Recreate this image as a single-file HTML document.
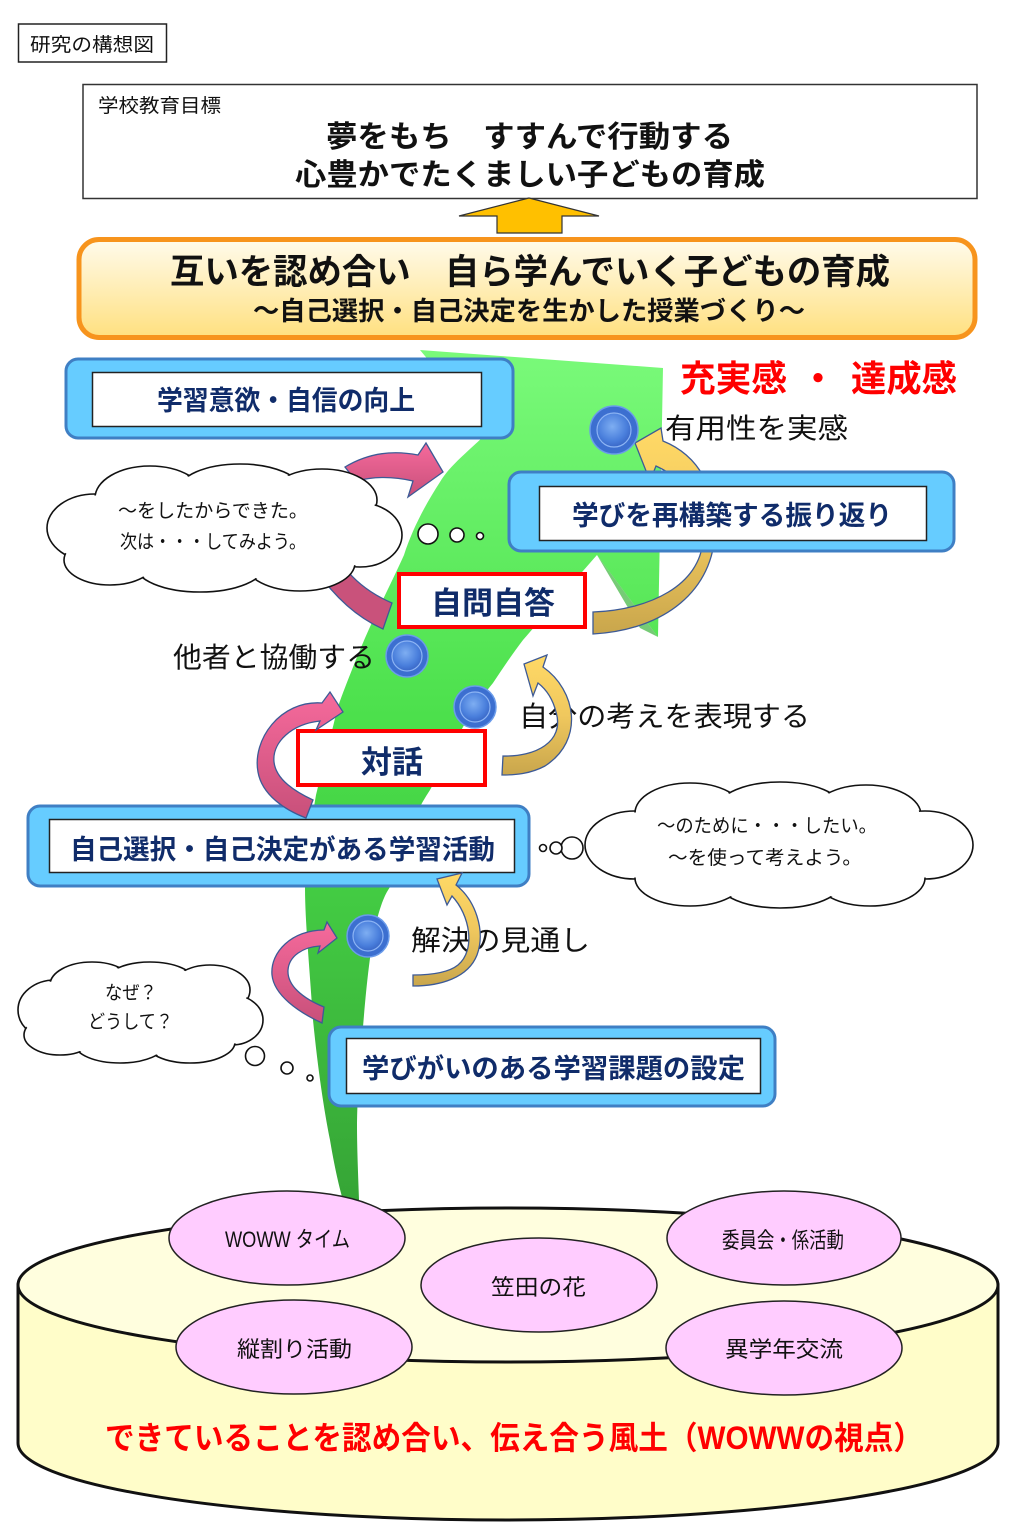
<!DOCTYPE html>
<html><head><meta charset="utf-8">
<style>
html,body{margin:0;padding:0;background:#fff;}
svg{display:block;}
text{font-family:"Liberation Sans","Noto Sans CJK JP",sans-serif;}
</style></head>
<body>
<svg width="1024" height="1538" viewBox="0 0 1024 1538" xmlns="http://www.w3.org/2000/svg">
<defs>
  <linearGradient id="og" x1="0" y1="0" x2="0" y2="1">
    <stop offset="0" stop-color="#FFFBEC"/>
    <stop offset="1" stop-color="#FFE07F"/>
  </linearGradient>
  <linearGradient id="gg" x1="0" y1="350" x2="0" y2="1200" gradientUnits="userSpaceOnUse">
    <stop offset="0" stop-color="#7AFA7A"/>
    <stop offset="0.45" stop-color="#4ADF4A"/>
    <stop offset="1" stop-color="#36A536"/>
  </linearGradient>
  <linearGradient id="pk" x1="0" y1="0" x2="0" y2="1">
    <stop offset="0" stop-color="#F66A9C"/>
    <stop offset="1" stop-color="#C8507A"/>
  </linearGradient>
  <linearGradient id="gd" x1="0" y1="0" x2="0" y2="1">
    <stop offset="0" stop-color="#FFD966"/>
    <stop offset="0.5" stop-color="#F0C85E"/>
    <stop offset="1" stop-color="#C9A64C"/>
  </linearGradient>
  <radialGradient id="bl" cx="0.45" cy="0.4" r="0.6">
    <stop offset="0" stop-color="#7EAEF2"/>
    <stop offset="0.7" stop-color="#4A7FDC"/>
    <stop offset="1" stop-color="#3A68C8"/>
  </radialGradient>
</defs>

<!-- title box -->
<rect x="18.5" y="24" width="148" height="38" fill="#fff" stroke="#222" stroke-width="1.5"/>
<text x="30" y="51" font-size="19" textLength="124" lengthAdjust="spacingAndGlyphs" fill="#111">研究の構想図</text>

<!-- school goal box -->
<rect x="83" y="84.5" width="894" height="114" fill="#fff" stroke="#333" stroke-width="1.5"/>
<text x="98" y="112" font-size="19" textLength="123" lengthAdjust="spacingAndGlyphs" fill="#111">学校教育目標</text>
<text x="326" y="147" font-size="30" font-weight="bold" textLength="407" lengthAdjust="spacingAndGlyphs" fill="#111">夢をもち　すすんで行動する</text>
<text x="295" y="185" font-size="30" font-weight="bold" textLength="470" lengthAdjust="spacingAndGlyphs" fill="#111">心豊かでたくましい子どもの育成</text>

<!-- orange up arrow -->
<polygon points="529,198 459,216 497,216 497,233 562,233 562,216 599,216" fill="#FFC000" stroke="#333" stroke-width="1.2"/>

<!-- orange box -->
<rect x="79" y="239.5" width="896" height="98" rx="20" fill="url(#og)" stroke="#F7941D" stroke-width="5"/>
<text x="170" y="284" font-size="35" font-weight="bold" textLength="720" lengthAdjust="spacingAndGlyphs" fill="#111">互いを認め合い　自ら学んでいく子どもの育成</text>
<text x="253" y="320" font-size="26" font-weight="bold" textLength="552" lengthAdjust="spacingAndGlyphs" fill="#111">～自己選択・自己決定を生かした授業づくり～</text>

<!-- cylinder -->
<path d="M18,1285 L18,1443 A490,77 0 0 0 998,1443 L998,1285 Z" fill="#FFFDC9" stroke="#111" stroke-width="3"/>
<ellipse cx="508" cy="1285" rx="490" ry="77" fill="#FFFEDE" stroke="#111" stroke-width="3"/>

<!-- green arrow -->
<path d="M663,368 L420,350 L488,432 C470,450 450,465 440,482 C425,505 412,530 404,555 C395,575 385,595 378,610 C368,630 360,650 355,662 C346,685 340,700 337,710 C330,740 322,770 316,795 C310,830 305,860 305,887 C305,920 309,960 313,1020 C318,1070 324,1110 330,1140 C335,1170 340,1190 343,1200 L359,1200 C358,1170 357,1150 357,1123 C358,1080 360,1050 363,1027 C366,990 370,950 376,923 C382,900 386,893 390,887 C395,870 398,860 402,848 C410,825 420,805 430,790 C442,768 452,747 463,727 C473,710 483,695 493,683 C503,668 513,653 523,640 C545,615 575,580 597,555 L658,637 Z" fill="url(#gg)"/>
<path d="M597,555 L658,637 L640,628 Z" fill="#3CB53C" opacity="0.7"/>

<!-- gold arrow 1 (behind box) -->
<path d="M593,612 C650,610 700,585 703,540 C705,505 690,482 656,466 L650,481 L635,443 L661,428 L663,441 C700,456 716,490 715,530 C714,590 665,630 593,634 Z" fill="url(#gd)" stroke="#3D5A96" stroke-width="1.3"/>

<!-- pink arrow 1 -->
<path d="M345,467 Q378,447 418,455 L426,443 L443,472 L408,497 L413,481 Q383,474 356,481 Z" fill="url(#pk)" stroke="#3D5A96" stroke-width="1.3"/>
<!-- pink arrow 2 -->
<path d="M316,570 Q345,612 383,629 L392,603 Q362,590 345,568 Z" fill="#C9527B" stroke="#3D5A96" stroke-width="1.3"/>

<!-- blue box 1 -->
<rect x="66" y="359" width="447" height="79" rx="12" fill="#66CCFF" stroke="#3F7FC4" stroke-width="3"/>
<rect x="92.5" y="372.5" width="389" height="54" fill="#fff" stroke="#222" stroke-width="1.5"/>
<text x="157" y="410" font-size="27" font-weight="bold" textLength="258" lengthAdjust="spacingAndGlyphs" fill="#102C6A">学習意欲・自信の向上</text>

<!-- blue box 2 -->
<rect x="509" y="472" width="445" height="79" rx="12" fill="#66CCFF" stroke="#3F7FC4" stroke-width="3"/>
<rect x="539.5" y="486.5" width="387" height="54" fill="#fff" stroke="#222" stroke-width="1.5"/>
<text x="572" y="525" font-size="27" font-weight="bold" textLength="320" lengthAdjust="spacingAndGlyphs" fill="#102C6A">学びを再構築する振り返り</text>

<!-- red text -->
<text x="680" y="391" font-size="36" font-weight="bold" textLength="107" lengthAdjust="spacingAndGlyphs" fill="#FF0000">充実感</text>
<text x="818" y="391" font-size="36" font-weight="bold" text-anchor="middle" fill="#FF0000">・</text>
<text x="851" y="391" font-size="36" font-weight="bold" textLength="106" lengthAdjust="spacingAndGlyphs" fill="#FF0000">達成感</text>

<!-- cloud 1 -->
<g fill="#fff" stroke="#111" stroke-width="1.6">
  <ellipse cx="95" cy="528" rx="48" ry="34"/>
  <ellipse cx="150" cy="498" rx="55" ry="32"/>
  <ellipse cx="240" cy="491" rx="62" ry="27"/>
  <ellipse cx="322" cy="500" rx="55" ry="31"/>
  <ellipse cx="360" cy="535" rx="42" ry="32"/>
  <ellipse cx="300" cy="563" rx="55" ry="28"/>
  <ellipse cx="200" cy="565" rx="65" ry="27"/>
  <ellipse cx="110" cy="560" rx="46" ry="25"/>
</g>
<g fill="#fff">
  <ellipse cx="95" cy="528" rx="46.5" ry="32.5"/>
  <ellipse cx="150" cy="498" rx="53.5" ry="30.5"/>
  <ellipse cx="240" cy="491" rx="60.5" ry="25.5"/>
  <ellipse cx="322" cy="500" rx="53.5" ry="29.5"/>
  <ellipse cx="360" cy="535" rx="40.5" ry="30.5"/>
  <ellipse cx="300" cy="563" rx="53.5" ry="26.5"/>
  <ellipse cx="200" cy="565" rx="63.5" ry="25.5"/>
  <ellipse cx="110" cy="560" rx="44.5" ry="23.5"/>
  <ellipse cx="224" cy="528" rx="150" ry="48"/>
</g>
<text x="118" y="517" font-size="19" textLength="190" lengthAdjust="spacingAndGlyphs" fill="#111">～をしたからできた。</text>
<text x="120" y="548" font-size="19" textLength="186" lengthAdjust="spacingAndGlyphs" fill="#111">次は・・・してみよう。</text>
<g fill="#fff" stroke="#111" stroke-width="1.6">
  <circle cx="428" cy="534" r="10"/>
  <circle cx="457" cy="535" r="7"/>
  <circle cx="480" cy="536" r="3.5"/>
</g>

<!-- red boxes -->
<rect x="399" y="574" width="186" height="53" fill="#fff" stroke="#FF0000" stroke-width="4"/>
<text x="431" y="614" font-size="31" font-weight="bold" textLength="124" lengthAdjust="spacingAndGlyphs" fill="#102C6A">自問自答</text>
<rect x="298" y="731" width="187" height="54" fill="#fff" stroke="#FF0000" stroke-width="4"/>
<text x="361" y="773" font-size="31" font-weight="bold" textLength="62" lengthAdjust="spacingAndGlyphs" fill="#102C6A">対話</text>

<!-- labels -->
<text x="665" y="438" font-size="28" textLength="183" lengthAdjust="spacingAndGlyphs" fill="#111">有用性を実感</text>
<text x="173" y="667" font-size="28" textLength="202" lengthAdjust="spacingAndGlyphs" fill="#111">他者と協働する</text>
<text x="519" y="726" font-size="28" textLength="291" lengthAdjust="spacingAndGlyphs" fill="#111">自分の考えを表現する</text>
<text x="411" y="950" font-size="28" textLength="179" lengthAdjust="spacingAndGlyphs" fill="#111">解決の見通し</text>

<!-- gold arrow 2 -->
<path d="M538,683 L533,696 L524,664 L547,655 L543,667 C576,690 585,740 545,766 C530,774 515,775 502,775 L503,756 C535,757 565,742 556,712 C553,700 547,690 538,683 Z" fill="url(#gd)" stroke="#3D5A96" stroke-width="1.3"/>

<!-- blue box 3 -->
<rect x="28" y="806" width="501" height="80" rx="12" fill="#66CCFF" stroke="#3F7FC4" stroke-width="3"/>
<rect x="49.5" y="819.5" width="465" height="53" fill="#fff" stroke="#222" stroke-width="1.5"/>
<text x="70" y="859" font-size="27" font-weight="bold" textLength="425" lengthAdjust="spacingAndGlyphs" fill="#102C6A">自己選択・自己決定がある学習活動</text>

<!-- pink arrow 3 -->
<path d="M322,703 C280,700 252,740 258,772 C262,795 285,810 306,818 L313,800 C296,792 276,780 274,762 C272,742 292,724 320,721 L316,730 L343,712 L330,692 Z" fill="url(#pk)" stroke="#3D5A96" stroke-width="1.3"/>

<!-- cloud 2 -->
<g fill="#fff" stroke="#111" stroke-width="1.6">
  <ellipse cx="635" cy="845" rx="50" ry="34"/>
  <ellipse cx="690" cy="813" rx="55" ry="30"/>
  <ellipse cx="780" cy="808" rx="62" ry="26"/>
  <ellipse cx="866" cy="815" rx="55" ry="30"/>
  <ellipse cx="925" cy="845" rx="48" ry="34"/>
  <ellipse cx="870" cy="878" rx="55" ry="28"/>
  <ellipse cx="780" cy="882" rx="62" ry="26"/>
  <ellipse cx="690" cy="878" rx="55" ry="28"/>
</g>
<g fill="#fff">
  <ellipse cx="635" cy="845" rx="48.5" ry="32.5"/>
  <ellipse cx="690" cy="813" rx="53.5" ry="28.5"/>
  <ellipse cx="780" cy="808" rx="60.5" ry="24.5"/>
  <ellipse cx="866" cy="815" rx="53.5" ry="28.5"/>
  <ellipse cx="925" cy="845" rx="46.5" ry="32.5"/>
  <ellipse cx="870" cy="878" rx="53.5" ry="26.5"/>
  <ellipse cx="780" cy="882" rx="60.5" ry="24.5"/>
  <ellipse cx="690" cy="878" rx="53.5" ry="26.5"/>
  <ellipse cx="779" cy="845" rx="165" ry="48"/>
</g>
<text x="657" y="832" font-size="19" textLength="220" lengthAdjust="spacingAndGlyphs" fill="#111">～のために・・・したい。</text>
<text x="668" y="864" font-size="19" textLength="194" lengthAdjust="spacingAndGlyphs" fill="#111">～を使って考えよう。</text>
<g fill="#fff" stroke="#111" stroke-width="1.6">
  <circle cx="572" cy="848" r="11"/>
  <circle cx="556" cy="848" r="6"/>
  <circle cx="543" cy="848" r="3.5"/>
</g>

<!-- gold arrow 3 -->
<path d="M456,885 L462,873 L437,879 L447,905 L452,896 C470,915 476,950 458,965 C448,973 430,975 413,975 L413,986 C440,986 468,978 477,955 C486,930 475,900 456,885 Z" fill="url(#gd)" stroke="#3D5A96" stroke-width="1.3"/>

<!-- pink arrow 4 -->
<path d="M324,930 C292,930 270,952 272,975 C274,995 298,1012 322,1023 L324,1007 C302,998 287,985 288,970 C289,956 303,947 320,946 L318,953 L337,938 L327,922 Z" fill="url(#pk)" stroke="#3D5A96" stroke-width="1.3"/>

<!-- cloud 3 -->
<g fill="#fff" stroke="#111" stroke-width="1.6">
  <ellipse cx="55" cy="1010" rx="37" ry="30"/>
  <ellipse cx="92" cy="985" rx="42" ry="23"/>
  <ellipse cx="150" cy="982" rx="45" ry="20"/>
  <ellipse cx="210" cy="990" rx="40" ry="25"/>
  <ellipse cx="232" cy="1020" rx="31" ry="25"/>
  <ellipse cx="190" cy="1042" rx="45" ry="21"/>
  <ellipse cx="120" cy="1044" rx="45" ry="19"/>
  <ellipse cx="60" cy="1035" rx="36" ry="20"/>
</g>
<g fill="#fff">
  <ellipse cx="55" cy="1010" rx="35.5" ry="28.5"/>
  <ellipse cx="92" cy="985" rx="40.5" ry="21.5"/>
  <ellipse cx="150" cy="982" rx="43.5" ry="18.5"/>
  <ellipse cx="210" cy="990" rx="38.5" ry="23.5"/>
  <ellipse cx="232" cy="1020" rx="29.5" ry="23.5"/>
  <ellipse cx="190" cy="1042" rx="43.5" ry="19.5"/>
  <ellipse cx="120" cy="1044" rx="43.5" ry="17.5"/>
  <ellipse cx="60" cy="1035" rx="34.5" ry="18.5"/>
  <ellipse cx="140" cy="1012" rx="105" ry="33"/>
</g>
<text x="105" y="999" font-size="19" textLength="52" lengthAdjust="spacingAndGlyphs" fill="#111">なぜ？</text>
<text x="88" y="1028" font-size="19" textLength="85" lengthAdjust="spacingAndGlyphs" fill="#111">どうして？</text>
<g fill="#fff" stroke="#111" stroke-width="1.6">
  <circle cx="255" cy="1056" r="9.5"/>
  <circle cx="287" cy="1068" r="6"/>
  <circle cx="310" cy="1078" r="3"/>
</g>

<!-- blue box 4 -->
<rect x="329" y="1027" width="446" height="79" rx="12" fill="#66CCFF" stroke="#3F7FC4" stroke-width="3"/>
<rect x="346.5" y="1038.5" width="414" height="55" fill="#fff" stroke="#222" stroke-width="1.5"/>
<text x="362" y="1078" font-size="27" font-weight="bold" textLength="383" lengthAdjust="spacingAndGlyphs" fill="#102C6A">学びがいのある学習課題の設定</text>

<!-- balls -->
<g>
  <circle cx="614" cy="430" r="24" fill="#3C6FD0" stroke="#6A9BEA" stroke-width="1.5"/>
  <circle cx="614" cy="430" r="17" fill="url(#bl)" stroke="#8CB4F4" stroke-width="1.2"/>
  <circle cx="407" cy="656" r="21" fill="#3C6FD0" stroke="#6A9BEA" stroke-width="1.5"/>
  <circle cx="407" cy="656" r="15" fill="url(#bl)" stroke="#8CB4F4" stroke-width="1.2"/>
  <circle cx="475" cy="707" r="21" fill="#3C6FD0" stroke="#6A9BEA" stroke-width="1.5"/>
  <circle cx="475" cy="707" r="15" fill="url(#bl)" stroke="#8CB4F4" stroke-width="1.2"/>
  <circle cx="368" cy="936" r="21" fill="#3C6FD0" stroke="#6A9BEA" stroke-width="1.5"/>
  <circle cx="368" cy="936" r="15" fill="url(#bl)" stroke="#8CB4F4" stroke-width="1.2"/>
</g>

<!-- ovals -->
<g fill="#FFCCFF" stroke="#222" stroke-width="1.5">
  <ellipse cx="287" cy="1238" rx="118" ry="47"/>
  <ellipse cx="784" cy="1238" rx="117" ry="47"/>
  <ellipse cx="539" cy="1285" rx="118" ry="47"/>
  <ellipse cx="294" cy="1347" rx="118" ry="47"/>
  <ellipse cx="784" cy="1348" rx="118" ry="47"/>
</g>
<text x="225" y="1247" font-size="22" textLength="125" lengthAdjust="spacingAndGlyphs" fill="#111">WOWW タイム</text>
<text x="722" y="1248" font-size="22" textLength="122" lengthAdjust="spacingAndGlyphs" fill="#111">委員会・係活動</text>
<text x="491" y="1295" font-size="22" textLength="95" lengthAdjust="spacingAndGlyphs" fill="#111">笠田の花</text>
<text x="237" y="1357" font-size="22" textLength="115" lengthAdjust="spacingAndGlyphs" fill="#111">縦割り活動</text>
<text x="725" y="1357" font-size="22" textLength="118" lengthAdjust="spacingAndGlyphs" fill="#111">異学年交流</text>

<text x="105" y="1449" font-size="32" font-weight="bold" textLength="818" lengthAdjust="spacingAndGlyphs" fill="#FF0000">できていることを認め合い、伝え合う風土（WOWWの視点）</text>
</svg>
</body></html>
